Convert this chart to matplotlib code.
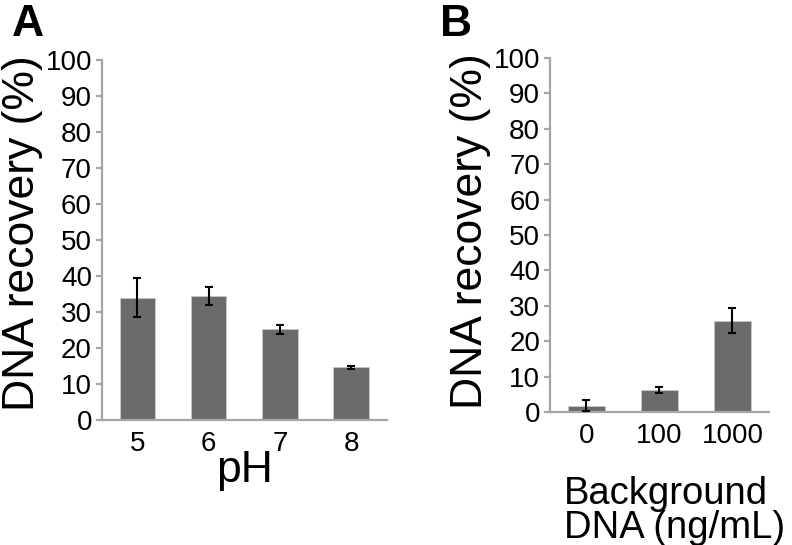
import matplotlib.pyplot as plt
import numpy as np

plt.rcParams['font.family'] = ['Liberation Sans', 'DejaVu Sans']

# panel A: pH series
ph_labels = ['5', '6', '7', '8']
ph_recovery = [34.0, 34.4, 25.2, 14.6]
ph_err = [5.3, 2.5, 1.2, 0.5]

# panel B: background DNA series
bg_labels = ['0', '100', '1000']
bg_recovery = [1.8, 6.2, 25.8]
bg_err = [1.6, 0.9, 3.5]

bar_color = '#6b6b6b'
spine_color = '#a6a6a6'


def style_axes(ax, n):
    ax.set_xlim(-0.5, n - 0.5)
    ax.set_ylim(0, 100)
    ax.set_yticks(np.arange(0, 101, 10))
    ax.spines['top'].set_visible(False)
    ax.spines['right'].set_visible(False)
    for s in ('left', 'bottom'):
        ax.spines[s].set_color(spine_color)
        ax.spines[s].set_linewidth(1.6)
    ax.tick_params(axis='y', length=4, width=1.6, color=spine_color,
                   labelsize=20, pad=3)
    ax.tick_params(axis='x', length=0, labelsize=20, pad=8)
    ax.set_ylabel('DNA recovery (%)', fontsize=32)


def draw_bars(ax, labels, values, errs):
    x = np.arange(len(labels))
    ax.bar(x, values, width=0.5, color=bar_color, edgecolor='#c8c8c8',
           linewidth=0.6, zorder=2)
    ax.errorbar(x, values, yerr=errs, fmt='none', ecolor='black',
                elinewidth=1.5, capsize=3, capthick=1.5, zorder=3)
    ax.set_xticks(x)
    ax.set_xticklabels(labels)


fig = plt.figure(figsize=(7.92, 5.45), dpi=100)

ax1 = fig.add_axes([0.1284, 0.2294, 0.360, 0.6606])
draw_bars(ax1, ph_labels, ph_recovery, ph_err)
style_axes(ax1, len(ph_labels))
ax1.yaxis.set_label_coords(-0.205, 0.52)
ax1.set_xlabel('pH', fontsize=32, labelpad=-5)

ax2 = fig.add_axes([0.6944, 0.244, 0.2765, 0.6495])
draw_bars(ax2, bg_labels, bg_recovery, bg_err)
style_axes(ax2, len(bg_labels))
ax2.yaxis.set_label_coords(-0.27, 0.51)
fig.text(564 / 792, 0.127, 'Background\nDNA (ng/mL)', fontsize=27.5,
         ha='left', va='top', linespacing=0.95)

fig.text(12 / 792, 1 - 4 / 545, 'A', fontsize=32, fontweight='bold',
         ha='left', va='top')
fig.text(440 / 792, 1 - 4 / 545, 'B', fontsize=32, fontweight='bold',
         ha='left', va='top')

fig.savefig('out.png', dpi=100)
